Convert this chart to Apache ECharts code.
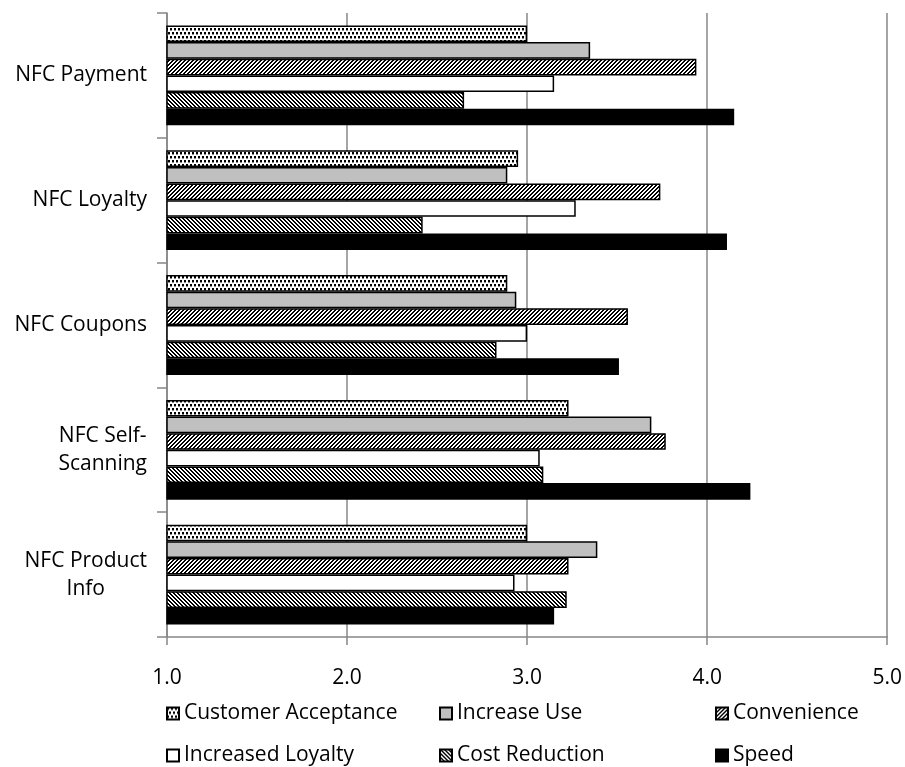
<!DOCTYPE html>
<html>
<head>
<meta charset="utf-8">
<script src="https://cdn.jsdelivr.net/npm/echarts@6/dist/echarts.min.js"></script>
<style>
  html, body { margin: 0; padding: 0; background: #fff; }
  #chart { width: 905px; height: 767px; }
</style>
</head>
<body>
<div id="chart"></div>
<script>
// Categories, top to bottom
const categories = ['NFC Payment', 'NFC Loyalty', 'NFC Coupons', 'NFC Self-\nScanning', 'NFC Product\nInfo'];

// Mean ratings per criterion (1–5 scale)
const customerAcceptance = [3.00, 2.95, 2.89, 3.23, 3.00];
const increaseUse        = [3.35, 2.89, 2.94, 3.69, 3.39];
const convenience        = [3.94, 3.74, 3.56, 3.77, 3.23];
const increasedLoyalty   = [3.15, 3.27, 3.00, 3.07, 2.93];
const costReduction      = [2.65, 2.42, 2.83, 3.09, 3.22];
const speed              = [4.15, 4.11, 3.51, 4.24, 3.15];

const xMin = 1, xMax = 5, xStep = 1;

// --- fill patterns -------------------------------------------------------
function tile(w, h, draw) {
  const c = document.createElement('canvas');
  c.width = w; c.height = h;
  const g = c.getContext('2d');
  g.fillStyle = '#fff';
  g.fillRect(0, 0, w, h);
  draw(g, w, h);
  return { image: c, repeat: 'repeat' };
}
const dotted = tile(4, 8, g => {
  g.fillStyle = '#000';
  g.fillRect(0, 0, 2, 2);
  g.fillRect(2, 4, 2, 2);
  g.fillStyle = '#8a8a8a';
  g.fillRect(0, 2, 2, 1);
  g.fillRect(2, 6, 2, 1);
});
const hatchUp = tile(4, 4, g => {          // "////"
  g.fillStyle = '#000';
  for (let y = 0; y < 4; y++)
    for (let x = 0; x < 4; x++)
      if ((x + y) % 4 < 2) g.fillRect(x, y, 1, 1);
});
const hatchDown = tile(4, 4, g => {        // "\\\\"
  g.fillStyle = '#000';
  for (let y = 0; y < 4; y++)
    for (let x = 0; x < 4; x++)
      if (((x - y) % 4 + 4) % 4 < 2) g.fillRect(x, y, 1, 1);
});

const FONT = '"Open Sans", "Liberation Sans", sans-serif';
const FS = 21;
const GRID_GRAY = '#878787';

function barSeries(name, data, fill) {
  return {
    name, type: 'bar', data,
    barGap: '0%', barCategoryGap: '20%',
    itemStyle: { color: fill, borderColor: '#000', borderWidth: 1.5 },
    emphasis: { disabled: true },
    clip: true
  };
}

function legendAt(name, left, top) {
  return {
    data: [name], left, top,
    padding: 0,
    itemWidth: 12, itemHeight: 12, itemGap: 0,
    icon: 'rect',
    selectedMode: false,
    textStyle: { fontFamily: FONT, fontSize: FS, color: '#000' }
  };
}

const chart = echarts.init(document.getElementById('chart'), null, { renderer: 'canvas' });
chart.setOption({
  animation: false,
  backgroundColor: '#fff',
  grid: { left: 167, right: 15, top: 13, bottom: 130, containLabel: false },
  xAxis: {
    type: 'value', min: xMin, max: xMax, interval: xStep,
    axisLine: { show: true, lineStyle: { color: GRID_GRAY, width: 1.5 } },
    axisTick: { show: true, length: 8, lineStyle: { color: GRID_GRAY, width: 1.5 } },
    splitLine: { show: true, lineStyle: { color: GRID_GRAY, width: 1.5 } },
    axisLabel: {
      margin: 31, fontFamily: FONT, fontSize: FS, color: '#000',
      formatter: v => v.toFixed(1)
    }
  },
  yAxis: {
    type: 'category', data: categories, inverse: true,
    axisLine: { show: true, lineStyle: { color: GRID_GRAY, width: 1.5 } },
    axisTick: { show: true, length: 10, alignWithLabel: false, lineStyle: { color: GRID_GRAY, width: 1.5 } },
    axisLabel: {
      margin: 20, fontFamily: FONT, fontSize: FS, color: '#000', lineHeight: 28,
      formatter: v => v.split('\n').map(s => '{c|' + s + '}').join('\n'),
      rich: { c: { align: 'center', fontFamily: FONT, fontSize: FS, color: '#000', lineHeight: 28 } }
    }
  },
  legend: [
    legendAt('Customer Acceptance', 166, 703),
    legendAt('Increase Use', 439, 703),
    legendAt('Convenience', 715, 703),
    legendAt('Increased Loyalty', 166, 745),
    legendAt('Cost Reduction', 439, 745),
    legendAt('Speed', 715, 745)
  ],
  series: [
    barSeries('Customer Acceptance', customerAcceptance, dotted),
    barSeries('Increase Use', increaseUse, '#c0c0c0'),
    barSeries('Convenience', convenience, hatchUp),
    barSeries('Increased Loyalty', increasedLoyalty, '#fff'),
    barSeries('Cost Reduction', costReduction, hatchDown),
    barSeries('Speed', speed, '#000')
  ]
});
</script>
</body>
</html>
